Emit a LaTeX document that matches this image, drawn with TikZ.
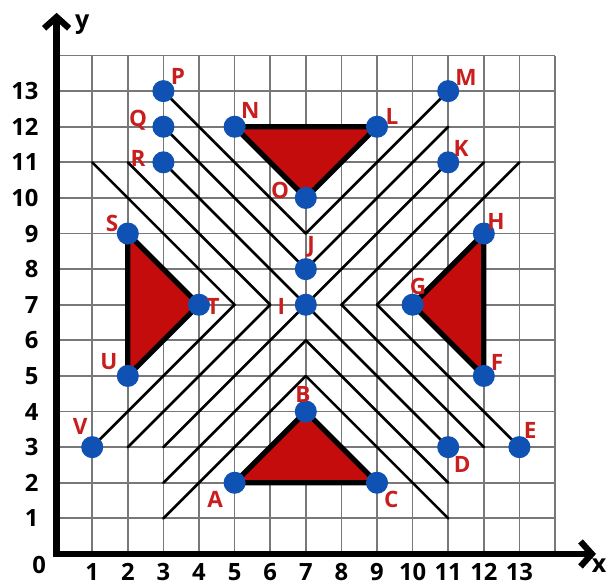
\documentclass[tikz,border=0pt]{standalone}
\usepackage{fontspec}
\setmainfont{Open Sans}
\usepackage{tikz}
\usetikzlibrary{arrows.meta, backgrounds}
\definecolor{trired}{RGB}{196,12,12}
\definecolor{lblred}{RGB}{200,30,30}
\definecolor{dotblue}{RGB}{16,82,180}
\definecolor{gridgray}{RGB}{120,120,120}
\tikzset{
  ptdot/.style={circle, fill=dotblue, inner sep=0pt, minimum size=0.62cm},
  ptlabel/.style={font=\fontsize{18}{18}\selectfont\bfseries, text=lblred, inner sep=0pt},
  ticklabel/.style={font=\fontsize{19}{19}\selectfont\bfseries, inner sep=0pt},
  axis/.style={line width=5pt, {Straight Barb[length=9pt,width=20pt]}-{Straight Barb[length=9pt,width=20pt]}},
  diag/.style={line width=2.1pt, line cap=round},
  tri/.style={fill=trired, draw=black, line width=4.2pt, line join=miter},
  gridline/.style={draw=gridgray, line width=1.4pt},
}

\begin{document}
\begin{tikzpicture}
  \useasboundingbox (-1.59,-0.87) rectangle (15.46,15.56);
  % labelled points
  \node[ptdot] (A) at (5,2) {};
  \node[ptdot] (B) at (7,4) {};
  \node[ptdot] (C) at (9,2) {};
  \node[ptdot] (D) at (11,3) {};
  \node[ptdot] (E) at (13,3) {};
  \node[ptdot] (F) at (12,5) {};
  \node[ptdot] (G) at (10,7) {};
  \node[ptdot] (H) at (12,9) {};
  \node[ptdot] (I) at (7,7) {};
  \node[ptdot] (J) at (7,8) {};
  \node[ptdot] (K) at (11,11) {};
  \node[ptdot] (L) at (9,12) {};
  \node[ptdot] (M) at (11,13) {};
  \node[ptdot] (N) at (5,12) {};
  \node[ptdot] (O) at (7,10) {};
  \node[ptdot] (P) at (3,13) {};
  \node[ptdot] (Q) at (3,12) {};
  \node[ptdot] (R) at (3,11) {};
  \node[ptdot] (S) at (2,9) {};
  \node[ptdot] (T) at (4,7) {};
  \node[ptdot] (U) at (2,5) {};
  \node[ptdot] (V) at (1,3) {};
  % chevron tips and free line ends
  \coordinate (lv1) at (5,7);
  \coordinate (lv2) at (6,7);
  \coordinate (rv1) at (9,7);
  \coordinate (rv2) at (8,7);
  \coordinate (tv) at (7,9);
  \coordinate (bv1) at (7,6);
  \coordinate (bv2) at (7,5);
  \coordinate (ul1) at (1,11);
  \coordinate (ul2) at (2,11);
  \coordinate (ll2) at (2,3);
  \coordinate (ll3) at (3,3);
  \coordinate (ll4) at (3,2);
  \coordinate (ll5) at (3,1);
  \coordinate (lr2) at (12,3);
  \coordinate (lr4) at (11,2);
  \coordinate (lr5) at (11,1);
  \coordinate (ur2) at (11,12);
  \coordinate (ur4) at (12,11);
  \coordinate (ur5) at (13,11);

  \begin{scope}[on background layer]
    % grid and axes
    \draw[gridline] (0,0) grid (14,14);
    \draw[axis] (0,15.2) -- (0,0) -- (15.15,0);
    % upper left
    \draw[diag] (ul1) -- (lv1);
    \draw[diag] (ul2) -- (lv2);
    \draw[diag] (R.center) -- (I.center);
    \draw[diag] (Q.center) -- (J.center);
    \draw[diag] (P.center) -- (tv);
    % lower right
    \draw[diag] (rv1) -- (E.center);
    \draw[diag] (rv2) -- (lr2);
    \draw[diag] (I.center) -- (D.center);
    \draw[diag] (bv1) -- (lr4);
    \draw[diag] (bv2) -- (lr5);
    % lower left
    \draw[diag] (V.center) -- (lv1);
    \draw[diag] (ll2) -- (lv2);
    \draw[diag] (ll3) -- (I.center);
    \draw[diag] (ll4) -- (bv1);
    \draw[diag] (ll5) -- (bv2);
    % upper right
    \draw[diag] (tv) -- (M.center);
    \draw[diag] (J.center) -- (ur2);
    \draw[diag] (I.center) -- (K.center);
    \draw[diag] (rv2) -- (ur4);
    \draw[diag] (rv1) -- (ur5);
    % triangles
    \filldraw[tri] (A.center) -- (B.center) -- (C.center) -- cycle;
    \filldraw[tri] (N.center) -- (L.center) -- (O.center) -- cycle;
    \filldraw[tri] (S.center) -- (T.center) -- (U.center) -- cycle;
    \filldraw[tri] (H.center) -- (G.center) -- (F.center) -- cycle;
  \end{scope}

  % axis numbers
  \foreach \i in {1,...,13} {
    \node[ticklabel] (xt\i) at (\i,-0.5) {\i};
    \node[ticklabel, anchor=east] (yt\i) at (-0.5,\i) {\i};
  }
  \node[ticklabel] (zero) at (-0.49,-0.31) {0};
  \node[ticklabel, font=\fontsize{20}{20}\selectfont\bfseries] (ylab) at (0.72,14.86) {y};
  \node[ticklabel, font=\fontsize{20}{20}\selectfont\bfseries] (xlab) at (15.24,-0.34) {x};

  % point names
  \node[ptlabel] (lA) at (4.45,1.54) {A};
  \node[ptlabel] (lB) at (6.92,4.47) {B};
  \node[ptlabel] (lC) at (9.40,1.54) {C};
  \node[ptlabel] (lD) at (11.39,2.50) {D};
  \node[ptlabel] (lE) at (13.30,3.48) {E};
  \node[ptlabel] (lF) at (12.37,5.37) {F};
  \node[ptlabel] (lG) at (10.15,7.50) {G};
  \node[ptlabel] (lH) at (12.34,9.33) {H};
  \node[ptlabel] (lI) at (6.31,6.94) {I};
  \node[ptlabel] (lJ) at (7.15,8.62) {J};
  \node[ptlabel] (lK) at (11.36,11.40) {K};
  \node[ptlabel] (lL) at (9.42,12.28) {L};
  \node[ptlabel] (lM) at (11.50,13.37) {M};
  \node[ptlabel] (lN) at (5.44,12.47) {N};
  \node[ptlabel] (lO) at (6.28,10.20) {O};
  \node[ptlabel] (lP) at (3.41,13.40) {P};
  \node[ptlabel] (lQ) at (2.29,12.19) {Q};
  \node[ptlabel] (lR) at (2.29,11.12) {R};
  \node[ptlabel] (lS) at (1.56,9.27) {S};
  \node[ptlabel] (lT) at (4.40,6.94) {T};
  \node[ptlabel] (lU) at (1.47,5.39) {U};
  \node[ptlabel] (lV) at (0.66,3.57) {V};
\end{tikzpicture}
\end{document}
